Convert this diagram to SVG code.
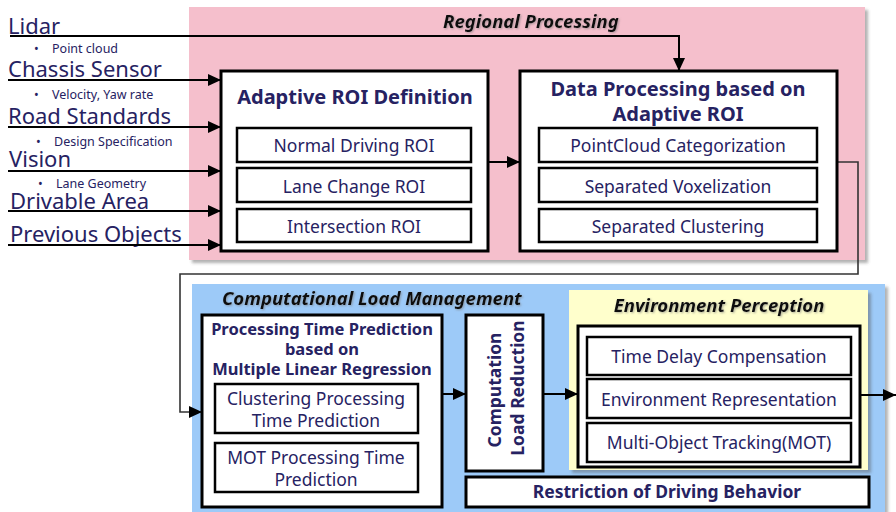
<svg xmlns="http://www.w3.org/2000/svg" width="896" height="512" viewBox="0 0 896 512">
  <defs>
    <filter id="shade" x="-5%" y="-5%" width="110%" height="115%">
      <feDropShadow dx="3" dy="3" stdDeviation="1.5" flood-color="#555" flood-opacity="0.45"/>
    </filter>
    <filter id="tshade" x="-5%" y="-20%" width="110%" height="140%">
      <feDropShadow dx="1" dy="1" stdDeviation="0.8" flood-color="#777" flood-opacity="0.6"/>
    </filter>
    <marker id="arrow" markerUnits="userSpaceOnUse" markerWidth="14" markerHeight="12" refX="13" refY="6" orient="auto">
      <path d="M0,0 L13,6 L0,12 Z" fill="#000"/>
    </marker>
    <style>
      .src { font-family: "Noto Sans", "Liberation Sans", sans-serif; font-size: 22px; fill: #262262; }
      .sub { font-family: "Noto Sans", "Liberation Sans", sans-serif; font-size: 12.5px; fill: #262262; }
      .region { font-family: "Noto Sans", "Liberation Sans", sans-serif; font-size: 18.5px; font-weight: bold; font-style: italic; fill: #111; }
      .title { font-family: "Noto Sans", "Liberation Sans", sans-serif; font-size: 20px; font-weight: bold; fill: #262262; text-anchor: middle; }
      .title2 { font-family: "Noto Sans", "Liberation Sans", sans-serif; font-size: 16.5px; font-weight: bold; fill: #262262; text-anchor: middle; }
      .strip { font-family: "Noto Sans", "Liberation Sans", sans-serif; font-size: 17.5px; font-weight: bold; fill: #262262; text-anchor: middle; }
      .item { font-family: "Noto Sans", "Liberation Sans", sans-serif; font-size: 17.5px; fill: #262262; text-anchor: middle; dominant-baseline: central; }
      .box { fill: #fff; stroke: #000; stroke-width: 3; }
      .ibox { fill: #fff; stroke: #000; stroke-width: 2.5; }
      .wire { fill: none; stroke: #000; stroke-width: 2; }
      .feed { fill: none; stroke: #333; stroke-width: 1.6; }
    </style>
  </defs>

  <rect width="896" height="512" fill="#fff"/>

  <!-- background regions -->
  <g id="regional-processing">
    <rect x="189" y="7" width="676" height="253" fill="#f5bfcc" filter="url(#shade)"/>
    <text class="region" x="443" y="28" filter="url(#tshade)">Regional Processing</text>
  </g>
  <g id="computational-load-management">
    <rect x="192" y="284" width="693" height="232" fill="#9dcaf8" filter="url(#shade)"/>
    <text class="region" x="222" y="305" filter="url(#tshade)">Computational Load Management</text>
  </g>
  <g id="environment-perception-area">
    <rect x="569" y="290" width="299" height="180" fill="#ffffcc" filter="url(#shade)"/>
    <text class="region" x="719" y="312" text-anchor="middle" filter="url(#tshade)">Environment Perception</text>
  </g>

  <!-- input sources -->
  <g id="src-lidar">
    <text class="src" x="8" y="34">Lidar</text>
    <text class="sub" x="34" y="53">•</text>
    <text class="sub" x="52" y="53">Point cloud</text>
  </g>
  <g id="src-chassis">
    <text class="src" x="8" y="77">Chassis Sensor</text>
    <text class="sub" x="34" y="99">•</text>
    <text class="sub" x="52" y="99">Velocity, Yaw rate</text>
  </g>
  <g id="src-road">
    <text class="src" x="8" y="124">Road Standards</text>
    <text class="sub" x="36" y="146">•</text>
    <text class="sub" x="54" y="146">Design Specification</text>
  </g>
  <g id="src-vision">
    <text class="src" x="9" y="167">Vision</text>
    <text class="sub" x="38" y="188">•</text>
    <text class="sub" x="56" y="188">Lane Geometry</text>
  </g>
  <g id="src-drivable">
    <text class="src" x="10" y="209">Drivable Area</text>
  </g>
  <g id="src-previous">
    <text class="src" x="10" y="242">Previous Objects</text>
  </g>

  <!-- connectors -->
  <g id="connectors">
    <path class="wire" d="M10,36 H679 V71" marker-end="url(#arrow)"/>
    <path class="wire" d="M8,80 H221" marker-end="url(#arrow)"/>
    <path class="wire" d="M8,127 H221" marker-end="url(#arrow)"/>
    <path class="wire" d="M8,171 H221" marker-end="url(#arrow)"/>
    <path class="wire" d="M8,211 H221" marker-end="url(#arrow)"/>
    <path class="wire" d="M8,245 H221" marker-end="url(#arrow)"/>
    <path class="wire" d="M488,162 H520" marker-end="url(#arrow)"/>
    <path class="feed" d="M837,162 H858 V274 H180 V412 H202" marker-end="url(#arrow)"/>
    <path class="wire" d="M442,394 H466" marker-end="url(#arrow)"/>
    <path class="wire" d="M543,394 H578" marker-end="url(#arrow)"/>
    <path class="wire" d="M860,395 H896" marker-end="url(#arrow)"/>
  </g>

  <!-- Adaptive ROI Definition -->
  <g id="adaptive-roi">
    <rect class="box" x="221" y="71" width="267" height="180"/>
    <text class="title" x="355" y="104">Adaptive ROI Definition</text>
    <rect class="ibox" x="237" y="128" width="234" height="34"/>
    <text class="item" x="354" y="145">Normal Driving ROI</text>
    <rect class="ibox" x="237" y="168" width="234" height="34"/>
    <text class="item" x="354" y="186">Lane Change ROI</text>
    <rect class="ibox" x="237" y="209" width="234" height="33"/>
    <text class="item" x="354" y="226">Intersection ROI</text>
  </g>

  <!-- Data Processing based on Adaptive ROI -->
  <g id="data-processing">
    <rect class="box" x="520" y="71" width="317" height="180"/>
    <text class="title" x="678" y="96">Data Processing based on</text>
    <text class="title" x="678" y="121">Adaptive ROI</text>
    <rect class="ibox" x="539" y="128" width="278" height="34"/>
    <text class="item" x="678" y="145">PointCloud Categorization</text>
    <rect class="ibox" x="539" y="168" width="278" height="34"/>
    <text class="item" x="678" y="186">Separated Voxelization</text>
    <rect class="ibox" x="539" y="209" width="278" height="33"/>
    <text class="item" x="678" y="226">Separated Clustering</text>
  </g>

  <!-- Processing Time Prediction -->
  <g id="time-prediction">
    <rect class="box" x="202" y="315" width="240" height="192"/>
    <text class="title2" x="322" y="335">Processing Time Prediction</text>
    <text class="title2" x="322" y="355">based on</text>
    <text class="title2" x="322" y="375">Multiple Linear Regression</text>
    <rect class="ibox" x="215" y="384" width="203" height="49"/>
    <text class="item" x="316" y="398">Clustering Processing</text>
    <text class="item" x="316" y="420">Time Prediction</text>
    <rect class="ibox" x="215" y="443" width="203" height="49"/>
    <text class="item" x="316" y="457">MOT Processing Time</text>
    <text class="item" x="316" y="479">Prediction</text>
  </g>

  <!-- Computation Load Reduction -->
  <g id="load-reduction">
    <rect class="box" x="466" y="315" width="77" height="156"/>
    <text class="strip" transform="translate(501,390) rotate(-90)">Computation</text>
    <text class="strip" transform="translate(524,388) rotate(-90)">Load Reduction</text>
  </g>

  <!-- Environment Perception -->
  <g id="environment-perception">
    <rect class="box" x="578" y="326" width="282" height="141"/>
    <rect class="ibox" x="587" y="337" width="264" height="38"/>
    <text class="item" x="719" y="356">Time Delay Compensation</text>
    <rect class="ibox" x="587" y="379" width="264" height="39"/>
    <text class="item" x="719" y="399">Environment Representation</text>
    <rect class="ibox" x="587" y="423" width="264" height="39"/>
    <text class="item" x="719" y="442">Multi-Object Tracking(MOT)</text>
  </g>

  <!-- Restriction of Driving Behavior -->
  <g id="restriction">
    <rect class="box" x="466" y="477" width="403" height="30"/>
    <text class="strip" x="667" y="498">Restriction of Driving Behavior</text>
  </g>
</svg>
